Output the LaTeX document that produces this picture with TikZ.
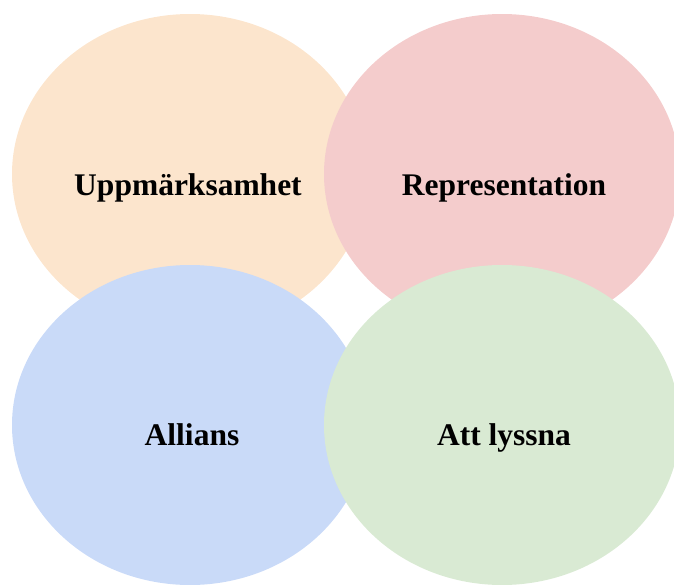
\documentclass[tikz,border=0pt]{standalone}
\usepackage{fontspec}
\setmainfont{Liberation Serif}
\usetikzlibrary{calc}
\usetikzlibrary{shapes.geometric}

\definecolor{peach}{HTML}{FCE5CD}
\definecolor{rose}{HTML}{F4CCCC}
\definecolor{sky}{HTML}{C9DAF8}
\definecolor{mint}{HTML}{D9EAD3}

\begin{document}
\begin{tikzpicture}[x=1pt,y=-1pt]
\tikzstyle{blob}=[ellipse, draw=none, inner sep=0pt, minimum width=356pt, minimum height=320pt]
\tikzstyle{word}=[anchor=base, inner sep=0pt, font=\fontsize{31.5}{36}\selectfont\bfseries]

\useasboundingbox (0,0) rectangle (674,584);

\node (upp) at (190,174) [blob, fill=peach] {};
\node (rep) at (502,174) [blob, fill=rose] {};
\node (all) at (190,425) [blob, fill=sky] {};
\node (lyss) at (502,425) [blob, fill=mint] {};

\node (uppText) [word] at ($(upp.center)+(-2,21)$) {Uppmärksamhet};
\node (repText) [word] at ($(rep.center)+(2,21)$) {Representation};
\node (allText) [word] at ($(all.center)+(2,20)$) {Allians};
\node (lyssText) [word] at ($(lyss.center)+(2,20)$) {Att lyssna};

\end{tikzpicture}
\end{document}
